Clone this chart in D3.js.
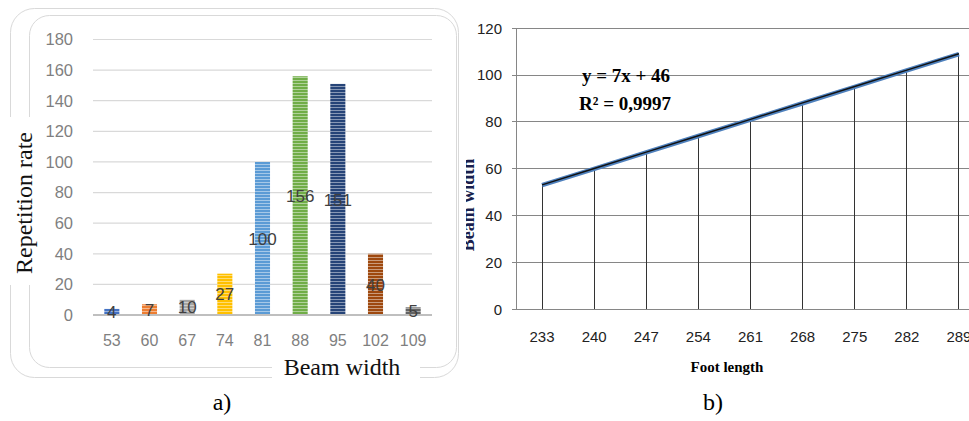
<!DOCTYPE html>
<html><head><meta charset="utf-8">
<script src="https://cdn.jsdelivr.net/npm/d3@7/dist/d3.min.js"></script>
<style>body{margin:0;background:#fff}svg{display:block}</style>
</head><body>
<svg id="c" width="969" height="421"></svg>
<script>
// ---- data ----
const beamCats = ["53","60","67","74","81","88","95","102","109"];
const repetition = [4,7,10,27,100,156,151,40,5];
const barColors = ["#4472c4","#ed7d31","#a5a5a5","#ffc000","#5b9bd5","#70ad47","#264478","#9e480e","#636363"];
const yTicksA = [0,20,40,60,80,100,120,140,160,180];

const footCats = ["233","240","247","254","261","268","275","282","289"];
const beamWidth = [53,60,67,74,81,88,95,102,109];
const yTicksB = [0,20,40,60,80,100,120];

const svg = d3.select("#c");
const defs = svg.append("defs");

// ---------------- right chart (b) ----------------
const xB = d3.scaleBand().domain(footCats).range([516, 985]).padding(0);
const yB = d3.scaleLinear().domain([0,120]).range([309.3, 28.3]);
const gB = svg.append("g");
gB.selectAll("line.grid").data(yTicksB).join("line")
  .attr("x1",512).attr("x2",969).attr("y1",d=>yB(d)).attr("y2",d=>yB(d))
  .attr("stroke","#868686").attr("stroke-width",1).attr("shape-rendering","crispEdges");
gB.append("line").attr("x1",516).attr("x2",516).attr("y1",yB(120)).attr("y2",yB(0))
  .attr("stroke","#868686").attr("shape-rendering","crispEdges");
gB.selectAll("text.yl").data(yTicksB).join("text")
  .attr("x",502).attr("y",d=>yB(d)).attr("dy","0.35em").attr("text-anchor","end")
  .attr("font-family","Liberation Sans, Arial, sans-serif").attr("font-size",15).attr("fill","#222")
  .text(d=>d);
const cx = d => xB(d) + xB.bandwidth()/2;
gB.selectAll("line.drop").data(footCats).join("line")
  .attr("x1",(d)=>cx(d)).attr("x2",d=>cx(d))
  .attr("y1",(d,i)=>yB(beamWidth[i])).attr("y2",yB(0))
  .attr("stroke","#333").attr("stroke-width",1).attr("shape-rendering","crispEdges");
gB.selectAll("text.xl").data(footCats).join("text")
  .attr("x",d=>cx(d)).attr("y",337).attr("dy","0.35em").attr("text-anchor","middle")
  .attr("font-family","Liberation Sans, Arial, sans-serif").attr("font-size",15).attr("fill","#222")
  .text(d=>d);
const lineGen = d3.line().x((d,i)=>cx(footCats[i])).y(d=>yB(d));
gB.append("path").attr("d",lineGen(beamWidth)).attr("fill","none")
  .attr("stroke","#4f81bd").attr("stroke-width",4.5);
gB.append("path").attr("d",lineGen(beamWidth)).attr("fill","none")
  .attr("stroke","#111").attr("stroke-width",1.4).attr("transform","translate(0,-0.3)");
const eqFont = "Liberation Serif, Times New Roman, serif";
gB.append("text").attr("x",626).attr("y",82).attr("text-anchor","middle")
  .attr("font-family",eqFont).attr("font-weight","bold").attr("font-size",19).attr("fill","#000")
  .text("y = 7x + 46");
gB.append("text").attr("x",625).attr("y",110).attr("text-anchor","middle")
  .attr("font-family",eqFont).attr("font-weight","bold").attr("font-size",19).attr("fill","#000")
  .text("R² = 0,9997");
gB.append("text").attr("x",727).attr("y",372).attr("text-anchor","middle")
  .attr("font-family",eqFont).attr("font-weight","bold").attr("font-size",15).attr("fill","#000")
  .text("Foot length");
defs.append("clipPath").attr("id","clipT").append("rect").attr("x",466).attr("y",0).attr("width",40).attr("height",421);
gB.append("g").attr("clip-path","url(#clipT)")
  .append("text")
  .attr("transform","translate(474,205) rotate(-90)").attr("text-anchor","middle")
  .attr("font-family",eqFont).attr("font-weight","bold").attr("font-size",18).attr("fill","#1a1f4d")
  .text("Beam width");
svg.append("text").attr("x",713).attr("y",410).attr("text-anchor","middle")
  .attr("font-family",eqFont).attr("font-size",24).attr("fill","#000").text("b)");

// ---------------- left chart (a) ----------------
const gA = svg.append("g");
gA.append("rect").attr("x",10.5).attr("y",8.5).attr("width",448).attr("height",369).attr("rx",24)
  .attr("fill","#fff").attr("stroke","#d9d9d9");
gA.append("rect").attr("x",29.5).attr("y",15.5).attr("width",427).attr("height",352).attr("rx",20)
  .attr("fill","#fff").attr("stroke","#d9d9d9");
// white boxes behind titles
gA.append("rect").attr("x",4).attr("y",117).attr("width",36).attr("height",168).attr("fill","#fff");
gA.append("rect").attr("x",272).attr("y",356).attr("width",148).attr("height",24).attr("fill","#fff");

const xA = d3.scaleBand().domain(beamCats).range([93,432]).paddingInner(0.6).paddingOuter(0.3);
const yA = d3.scaleLinear().domain([0,180]).range([315,39.5]);
gA.selectAll("line.grid").data(yTicksA.filter(d=>d>0)).join("line")
  .attr("x1",93).attr("x2",432).attr("y1",d=>yA(d)).attr("y2",d=>yA(d))
  .attr("stroke","#d9d9d9").attr("stroke-width",1.2);
gA.selectAll("text.yl").data(yTicksA).join("text")
  .attr("x",73).attr("y",d=>yA(d)).attr("dy","0.36em").attr("text-anchor","end")
  .attr("font-family","Liberation Sans, Arial, sans-serif").attr("font-size",16.5).attr("fill","#7f7f7f")
  .text(d=>d);
// stripe patterns
barColors.forEach((c,i)=>{
  const p = defs.append("pattern").attr("id","st"+i).attr("patternUnits","userSpaceOnUse")
    .attr("width",6).attr("height",3);
  p.append("rect").attr("width",6).attr("height",3).attr("fill",c);
  p.append("rect").attr("y",2).attr("width",6).attr("height",1).attr("fill","#fff").attr("opacity",0.45);
});
gA.selectAll("rect.bar").data(beamCats).join("rect")
  .attr("x",d=>xA(d)).attr("width",xA.bandwidth())
  .attr("y",(d,i)=>yA(repetition[i])).attr("height",(d,i)=>yA(0)-yA(repetition[i]))
  .attr("fill",(d,i)=>"url(#st"+i+")");
gA.append("line").attr("x1",93).attr("x2",432).attr("y1",yA(0)).attr("y2",yA(0))
  .attr("stroke","#bfbfbf").attr("stroke-width",2);
gA.selectAll("text.dl").data(beamCats).join("text")
  .attr("x",d=>xA(d)+xA.bandwidth()/2)
  .attr("y",(d,i)=>(yA(repetition[i])+yA(0))/2).attr("dy","0.36em").attr("text-anchor","middle")
  .attr("font-family","Liberation Sans, Arial, sans-serif").attr("font-size",17).attr("fill","#404040")
  .text((d,i)=>repetition[i]);
gA.selectAll("text.xl").data(beamCats).join("text")
  .attr("x",d=>xA(d)+xA.bandwidth()/2).attr("y",340).attr("dy","0.36em").attr("text-anchor","middle")
  .attr("font-family","Liberation Sans, Arial, sans-serif").attr("font-size",16).attr("fill","#7f7f7f")
  .text(d=>d);
gA.append("text").attr("transform","translate(32,203) rotate(-90)").attr("text-anchor","middle")
  .attr("font-family",eqFont).attr("font-size",24).attr("fill","#111").text("Repetition rate");
gA.append("text").attr("x",342).attr("y",375).attr("text-anchor","middle")
  .attr("font-family",eqFont).attr("font-size",24).attr("fill","#111").text("Beam width");
svg.append("text").attr("x",222).attr("y",410).attr("text-anchor","middle")
  .attr("font-family",eqFont).attr("font-size",24).attr("fill","#000").text("a)");
</script>
</body></html>
